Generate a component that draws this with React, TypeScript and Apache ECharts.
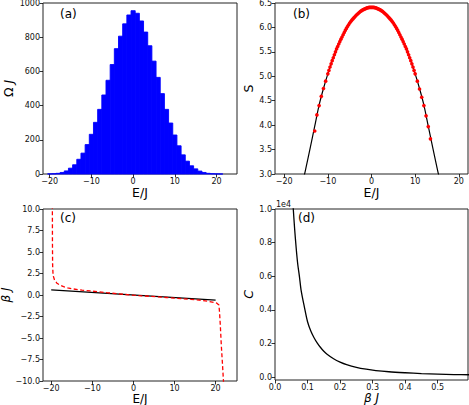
import React, { useEffect, useRef } from 'react';
import * as echarts from 'echarts';

// (a) histogram: bin centres (E/J) and counts (Ω J)
const histCenters = [-20, -19, -18, -17, -16, -15, -14, -13, -12, -11, -10, -9, -8, -7, -6, -5, -4, -3, -2, -1, 0, 1, 2, 3, 4, 5, 6, 7, 8, 9, 10, 11, 12, 13, 14, 15, 16, 17, 18, 19, 20, 21];
const histCounts = [0.5, 1.5, 4, 9, 18, 34, 54, 86, 122, 172, 232, 302, 378, 462, 548, 640, 733, 806, 878, 930, 955, 940, 895, 830, 750, 660, 565, 470, 378, 298, 228, 165, 112, 75, 48, 30, 17, 9, 4, 1.5, 0.5, 0.2];

// (b) entropy: black fitted curve and red data points
const sLineE = [-15.4, -15, -14, -13, -12, -11, -10, -9, -8, -7, -6, -5, -4, -3, -2, -1, 0, 1, 2, 3, 4, 5, 6, 7, 8, 9, 10, 11, 12, 13, 14, 15, 15.4];
const sLineS = [2.97, 3.13, 3.55, 3.98, 4.41, 4.75, 5.05, 5.32, 5.56, 5.76, 5.94, 6.09, 6.2, 6.29, 6.36, 6.4, 6.41, 6.4, 6.36, 6.29, 6.2, 6.09, 5.94, 5.76, 5.56, 5.32, 5.05, 4.75, 4.41, 3.98, 3.55, 3.13, 2.97];
const sDotE = [
  -13, -12.5, -12, -11.5, -11, -10.5, -10, -9.75, -9.5, -9.25, -9, -8.75, -8.5, -8.25, -8, -7.75, -7.5, -7.25, -7, -6.75, -6.5, -6.25, -6, -5.75, -5.5, -5.25, -5, -4.75, -4.5, -4.25, -4, -3.75, -3.5, -3.25, -3, -2.75, -2.5, -2.25, -2, -1.75, -1.5, -1.25, -1, -0.75, -0.5, -0.25,
  0, 0.25, 0.5, 0.75, 1, 1.25, 1.5, 1.75, 2, 2.25, 2.5, 2.75, 3, 3.25, 3.5, 3.75, 4, 4.25, 4.5, 4.75, 5, 5.25, 5.5, 5.75, 6, 6.25, 6.5, 6.75, 7, 7.25, 7.5, 7.75, 8, 8.25, 8.5, 8.75, 9, 9.25, 9.5, 9.75, 10, 10.5, 11, 11.5, 12, 12.5, 13, 13.5,
];
const sDotS = [
  3.88, 4.21, 4.4, 4.59, 4.75, 4.9, 5.05, 5.12, 5.19, 5.255, 5.32, 5.38, 5.44, 5.5, 5.56, 5.61, 5.66, 5.71, 5.76, 5.805, 5.85, 5.895, 5.94, 5.98, 6.02, 6.055, 6.09, 6.12, 6.15, 6.175, 6.2, 6.225, 6.25, 6.27, 6.29, 6.31, 6.33, 6.345, 6.36, 6.37, 6.38, 6.39, 6.4, 6.405, 6.41, 6.41,
  6.41, 6.41, 6.41, 6.405, 6.4, 6.39, 6.38, 6.37, 6.36, 6.345, 6.33, 6.31, 6.29, 6.27, 6.25, 6.225, 6.2, 6.175, 6.15, 6.12, 6.09, 6.055, 6.02, 5.98, 5.94, 5.895, 5.85, 5.805, 5.76, 5.71, 5.66, 5.61, 5.56, 5.5, 5.44, 5.38, 5.32, 5.255, 5.19, 5.12, 5.05, 4.9, 4.74, 4.57, 4.4, 4.19, 3.97, 3.72,
];

// (c) inverse temperature: black analytic line and red dashed numerical curve
const bLineE = [-20, 20];
const bLineB = [0.6, -0.6];
const bDashE = [-19.72, -19.7, -19.66, -19.55, -19.2, -18.6, -17.8, -17, -16, -14.6, -12.5, -10.5, -8.5, -6.5, -4, -2, 0, 2, 4, 6, 8, 10, 12, 14, 16, 18, 19.5, 20.3, 20.8, 20.95, 21.15, 21.4, 21.7, 21.95];
const bDashB = [10.5, 6, 3.5, 2.3, 1.75, 1.36, 1.12, 0.97, 0.83, 0.7, 0.57, 0.47, 0.37, 0.27, 0.15, 0.06, -0.02, -0.09, -0.15, -0.22, -0.29, -0.36, -0.43, -0.51, -0.6, -0.72, -0.85, -0.95, -1.15, -2, -3.6, -6, -8.3, -10.4];

// (d) heat capacity (units of 1e4) versus β J
const cBeta = [0.0555, 0.06, 0.065, 0.07, 0.075, 0.08, 0.09, 0.1, 0.11, 0.12, 0.13, 0.14, 0.15, 0.16, 0.18, 0.2, 0.22, 0.25, 0.28, 0.31, 0.35, 0.4, 0.45, 0.5, 0.55, 0.6];
const cValue = [1.02, 0.89, 0.77, 0.67, 0.6, 0.52, 0.42, 0.33, 0.275, 0.235, 0.203, 0.177, 0.155, 0.137, 0.11, 0.09, 0.075, 0.059, 0.048, 0.04, 0.033, 0.027, 0.022, 0.019, 0.016, 0.015];

const FONT = 'DejaVu Sans';
const minus = (s: string) => s.replace('-', '\u2212');

const zip = (a: number[], b: number[]) => a.map((v, i) => [v, b[i]]);

function axis(gridIndex: number, min: number, max: number, ticks: number[], fmt: (v: number) => string, extra: any = {}, nameSize = 12.5) {
  return {
    type: 'value',
    gridIndex,
    min,
    max,
    axisLine: { show: false, onZero: false },
    splitLine: { show: false },
    axisTick: { show: true, inside: false, length: 3.5, customValues: ticks, lineStyle: { color: '#000', width: 0.8 } },
    axisLabel: { show: true, fontSize: 8, color: '#111', fontFamily: FONT, margin: 3, customValues: ticks, formatter: (v: number) => minus(fmt(v)) },
    nameLocation: 'middle',
    nameTextStyle: { fontSize: nameSize, fontFamily: FONT, color: '#000', rich: { i: { fontStyle: 'italic', fontSize: nameSize, fontFamily: FONT, color: '#000' }, n: { fontSize: nameSize, fontFamily: FONT, color: '#000' } } },
    ...extra,
  };
}

const ETicks = [-20, -10, 0, 10, 20];
const int = (v: number) => String(Math.round(v));
const one = (v: number) => v.toFixed(1);

export default function App() {
  const ref = useRef<HTMLDivElement>(null);
  useEffect(() => {
    document.body.style.margin = '0';
    const chart = echarts.init(ref.current!, null, { renderer: 'svg' });
    const gridBase = { show: true, borderColor: '#222', borderWidth: 1, backgroundColor: 'transparent', containLabel: false, outerBoundsMode: 'none' };
    const histData = histCenters.map((c, i) => [c - 0.5, c + 0.5, histCounts[i]]);
    const option: any = {
      animation: false,
      textStyle: { fontFamily: FONT },
      grid: [
        { ...gridBase, left: 43, top: 3, width: 194, height: 171 },
        { ...gridBase, left: 275, top: 3, width: 193, height: 171 },
        { ...gridBase, left: 43, top: 209, width: 194, height: 172 },
        { ...gridBase, left: 275, top: 209, width: 193, height: 171 },
      ],
      xAxis: [
        axis(0, -21.6, 24.9, ETicks, int, { name: 'E/J', nameGap: 11 }),
        axis(1, -22.1, 22.1, ETicks, int, { name: 'E/J', nameGap: 7 }),
        axis(2, -22, 25.2, ETicks, int, { name: 'E/J', nameGap: 5 }, 12),
        axis(3, 0, 0.593, [0, 0.1, 0.2, 0.3, 0.4, 0.5], one, { name: '{i|β J}', nameGap: 5 }, 12),
      ],
      yAxis: [
        axis(0, 0, 1000, [0, 200, 400, 600, 800, 1000], int, { name: '{n|Ω }{i|J}', nameGap: 28 }),
        axis(1, 3, 6.5, [3, 3.5, 4, 4.5, 5, 5.5, 6, 6.5], one, { name: 'S', nameGap: 18 }),
        axis(2, -10, 10, [-10, -7.5, -5, -2.5, 0, 2.5, 5, 7.5, 10], one, { name: '{i|β J}', nameGap: 26.5 }, 12),
        axis(3, -0.016, 1.0, [0, 0.2, 0.4, 0.6, 0.8, 1.0], one, { name: '{i|C}', nameGap: 16 }),
      ],
      series: [
        {
          type: 'custom',
          xAxisIndex: 0,
          yAxisIndex: 0,
          data: histData,
          encode: { x: [0, 1], y: 2 },
          renderItem: (params: any, api: any) => {
            const p0 = api.coord([api.value(0), api.value(2)]);
            const p1 = api.coord([api.value(1), 0]);
            return {
              type: 'rect',
              shape: { x: p0[0], y: p0[1], width: p1[0] - p0[0], height: p1[1] - p0[1] },
              style: { fill: '#0000ff', stroke: '#0000ff', lineWidth: 0.9 },
            };
          },
        },
        {
          type: 'line', xAxisIndex: 1, yAxisIndex: 1, data: zip(sLineE, sLineS), showSymbol: false, symbol: 'none',
          lineStyle: { color: '#000', width: 1.2 }, smooth: 0.3, z: 1,
        },
        {
          type: 'scatter', xAxisIndex: 1, yAxisIndex: 1, data: zip(sDotE, sDotS), symbol: 'circle', symbolSize: 3.6, z: 5,
          itemStyle: { color: '#ff0000', opacity: 1, borderWidth: 0 },
        },
        {
          type: 'line', xAxisIndex: 2, yAxisIndex: 2, data: zip(bLineE, bLineB), symbol: 'none',
          lineStyle: { color: '#000', width: 1.4 },
        },
        {
          type: 'line', xAxisIndex: 2, yAxisIndex: 2, data: zip(bDashE, bDashB), symbol: 'none',
          lineStyle: { color: '#ff0000', width: 1.3, type: [4, 2.5] },
        },
        {
          type: 'line', xAxisIndex: 3, yAxisIndex: 3, data: zip(cBeta, cValue), symbol: 'none', smooth: 0.3,
          lineStyle: { color: '#000', width: 1.3 },
        },
      ],
      graphic: [
        { type: 'text', left: 60, top: 8, style: { text: '(a)', font: `12px "${FONT}"`, fill: '#000' } },
        { type: 'text', left: 293, top: 8, style: { text: '(b)', font: `12px "${FONT}"`, fill: '#000' } },
        { type: 'text', left: 60, top: 212, style: { text: '(c)', font: `12px "${FONT}"`, fill: '#000' } },
        { type: 'text', left: 298, top: 212, style: { text: '(d)', font: `12px "${FONT}"`, fill: '#000' } },
        { type: 'text', left: 276, top: 200, style: { text: '1e4', font: `8px "${FONT}"`, fill: '#111' } },
      ],
    };
    chart.setOption(option);
    return () => chart.dispose();
  }, []);
  return <div ref={ref} style={{ width: 469, height: 405 }} />;
}
